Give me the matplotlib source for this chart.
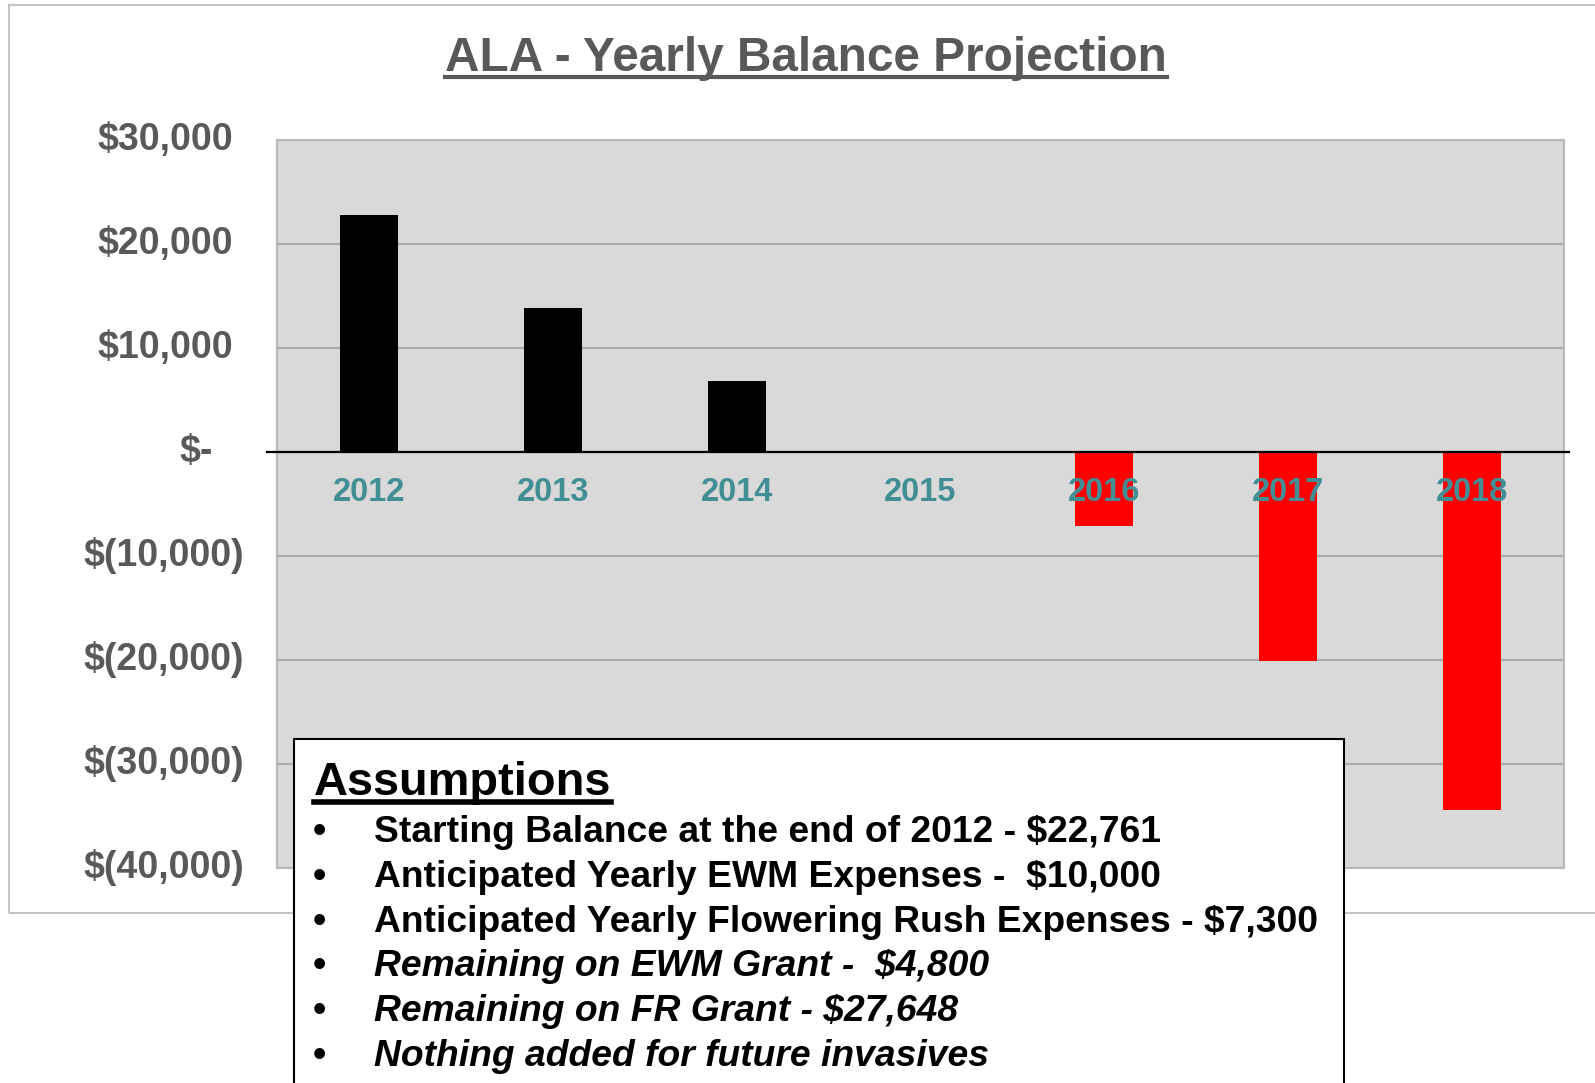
import numpy as np
import matplotlib
matplotlib.use("Agg")
import matplotlib.pyplot as plt
import matplotlib.transforms as mtransforms
from matplotlib.patches import Rectangle
from matplotlib.lines import Line2D

plt.rcParams['font.family'] = ['Liberation Sans', 'DejaVu Sans']

# data
years = ['2012', '2013', '2014', '2015', '2016', '2017', '2018']
balance = [22761, 13860, 6800, 0, -7140, -20060, -34400]
yticks = [30000, 20000, 10000, 0, -10000, -20000, -30000, -40000]

title = 'ALA - Yearly Balance Projection'
notes_head = 'Assumptions'
notes = ['Starting Balance at the end of 2012 - $22,761',
         'Anticipated Yearly EWM Expenses -  $10,000',
         'Anticipated Yearly Flowering Rush Expenses - $7,300',
         'Remaining on EWM Grant -  $4,800',
         'Remaining on FR Grant - $27,648',
         'Nothing added for future invasives']
notes_italic = [False, False, False, True, True, True]

W, H = 1595, 1083
fig = plt.figure(figsize=(W / 100, H / 100), dpi=100)


def fx(x):
    return x / W


def fy(y):
    return 1 - y / H


def money(v):
    if v == 0:
        return '$-'
    if v > 0:
        return f'${v:,}'
    return f'$({abs(v):,})'


# outer chart frame
fig.patches.append(Rectangle((fx(9), fy(913)), fx(1620) - fx(9), fy(5) - fy(913),
                             transform=fig.transFigure, fill=False,
                             edgecolor='#c4c4c4', lw=1.5, zorder=0))

ax = fig.add_axes([fx(277), fy(868), fx(1564) - fx(277), fy(140) - fy(868)])
ax.set_facecolor('#d9d9d9')
x = np.arange(len(years))
colors = ['black' if v >= 0 else 'red' for v in balance]
ax.bar(x, balance, width=0.316, color=colors, zorder=2)
ax.set_xlim(-0.5, len(years) - 0.5)
ax.set_ylim(min(yticks), max(yticks))
ax.set_yticks(yticks)
ax.set_xticks([])
ax.grid(axis='y', color='#aaaaaa', lw=1.5)
ax.set_axisbelow(True)
ax.tick_params(length=0, labelleft=False)
for s in ax.spines.values():
    s.set_color('#b8b8b8')
    s.set_linewidth(1.5)
ax.axhline(0, xmin=-0.0075, xmax=1.004, color='black', lw=1.6, clip_on=False, zorder=3)

# year labels sit inside the plot, on top of the bars
for i, yr in enumerate(years):
    ax.text(i, -3850, yr, ha='center', va='center', fontsize=23.5,
            fontweight='bold', color='#418f94', zorder=4)

# accounting style y labels (parentheses hang past the digits)
base = mtransforms.blended_transform_factory(ax.transAxes, ax.transData)
for v in yticks:
    if v > 0:
        dx = -44
    elif v == 0:
        dx = -64
    else:
        dx = -33
    tr = base + mtransforms.ScaledTranslation(dx / 100, 0, fig.dpi_scale_trans)
    ax.text(0, v, money(v), transform=tr, ha='right', va='center',
            fontsize=27, fontweight='bold', color='#595959', clip_on=False)

# title with underline
t = fig.text(fx(806), fy(71), title, ha='center', va='baseline',
             fontsize=34.4, fontweight='bold', color='#595959')

# assumptions box
fig.patches.append(Rectangle((fx(294), fy(1100)), fx(1344) - fx(294), fy(739) - fy(1100),
                             transform=fig.transFigure, facecolor='white',
                             edgecolor='black', lw=1.5, zorder=5))
h = fig.text(fx(314), fy(795), notes_head, ha='left', va='baseline',
             fontsize=33.8, fontweight='bold', color='black', zorder=6)
for k, (line, it) in enumerate(zip(notes, notes_italic)):
    yb = 842 + k * 44.8
    fig.text(fx(319), fy(yb - 10), '\u2022', ha='center', va='center',
             fontsize=27, fontweight='bold', color='black', zorder=6)
    fig.text(fx(374), fy(yb), line, ha='left', va='baseline', fontsize=26.8,
             fontweight='bold', style='italic' if it else 'normal',
             color='black', zorder=6)

fig.canvas.draw()
bb = t.get_window_extent()
fig.add_artist(Line2D([bb.x0, bb.x1], [H - 77, H - 77], color='#595959', lw=3,
                      transform=mtransforms.IdentityTransform(), zorder=6))
bb = h.get_window_extent()
fig.add_artist(Line2D([bb.x0, bb.x1], [H - 802, H - 802], color='black', lw=4,
                      transform=mtransforms.IdentityTransform(), zorder=6))

fig.savefig('out.png', dpi=100)
